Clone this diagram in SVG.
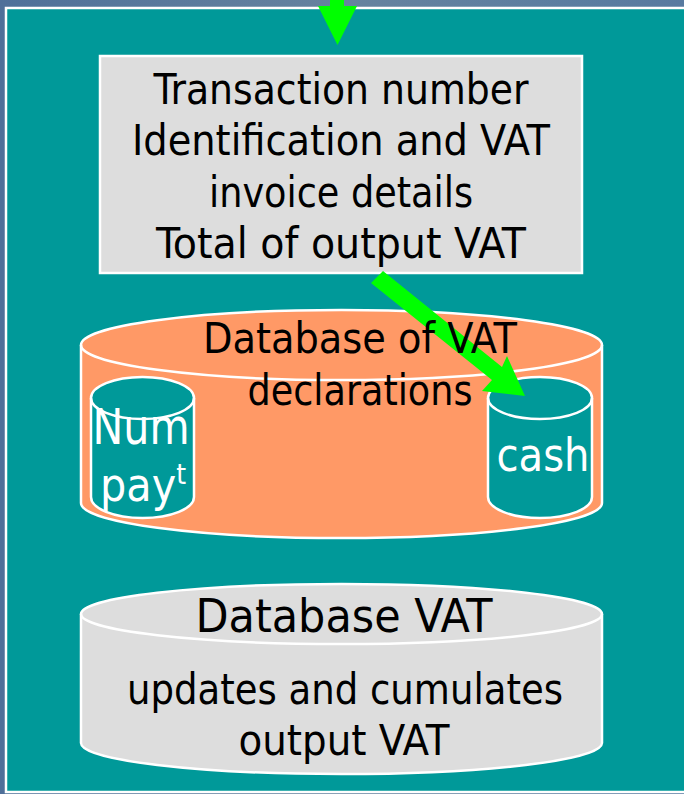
<svg xmlns="http://www.w3.org/2000/svg" width="684" height="794" viewBox="0 0 684 794">
<style>
text{font-family:"DejaVu Sans Condensed","DejaVu Sans","Liberation Sans",sans-serif;font-size:43px;text-anchor:middle;fill:#000}
.w{fill:#fff}
.s{fill:none;stroke:#fff;stroke-width:2.500}
</style>
<defs>
<linearGradient id="bg" x1="0" y1="0" x2="1" y2="0"><stop offset="0" stop-color="#4f7099"/><stop offset="0.5" stop-color="#66839f"/><stop offset="1" stop-color="#587aa0"/></linearGradient>
</defs>
<rect width="684" height="794" fill="url(#bg)"/>
<g id="panel"><rect x="6" y="8" width="680" height="784" fill="#009999" stroke="#fff" stroke-width="2.500"/></g>
<g id="transaction">
<rect x="100" y="56" width="482" height="217" fill="#dddddd" stroke="#fff" stroke-width="2.500"/>
<text x="341" y="104" textLength="375" lengthAdjust="spacingAndGlyphs">Transaction number</text>
<text x="341" y="155" textLength="418" lengthAdjust="spacingAndGlyphs">Identification and VAT</text>
<text x="341" y="207" textLength="264" lengthAdjust="spacingAndGlyphs">invoice details</text>
<text x="341" y="258" textLength="370" lengthAdjust="spacingAndGlyphs">Total of output VAT</text>
</g>
<g id="db-declarations">
<path d="M81 345A260 35 0 0 1 602 345V503A260 35 0 0 1 81 503Z" fill="#ff9966" stroke="#fff" stroke-width="2.500"/>
<path class="s" d="M81 345A260 35 0 0 0 602 345"/>
</g>
<g id="num-payt">
<path d="M91 398A51.500 21 0 0 1 194 398V497A51.500 21 0 0 1 91 497Z" fill="#009999" stroke="#fff" stroke-width="2.500"/>
<path class="s" d="M91 398A51.500 21 0 0 0 194 398"/>
<text class="w" x="141" y="444" style="font-size:50px" textLength="97" lengthAdjust="spacingAndGlyphs">Num</text>
<text class="w" x="100" y="501" style="font-size:46px;text-anchor:start">pay<tspan style="font-size:28px" dy="-17">t</tspan></text>
</g>
<g id="cash">
<path d="M488 398A52 21 0 0 1 592 398V497A52 21 0 0 1 488 497Z" fill="#009999" stroke="#fff" stroke-width="2.500"/>
<path class="s" d="M488 398A52 21 0 0 0 592 398"/>
<text class="w" x="543" y="471" style="font-size:47px" textLength="93" lengthAdjust="spacingAndGlyphs">cash</text>
</g>
<g id="connectors" fill="#00ff00">
<path d="M330 0H344V6H357L337.500 45 318 6H330Z"/>
<path d="M383 271L371 283 492 380 482 391 525 396 507 356 502 367Z"/>
</g>
<g id="db-declarations-label">
<text x="360" y="353" textLength="314" lengthAdjust="spacingAndGlyphs">Database of VAT</text>
<text x="360" y="405" textLength="225" lengthAdjust="spacingAndGlyphs">declarations</text>
</g>
<g id="db-vat">
<path d="M81 614A260 30 0 0 1 602 614V743A260 31 0 0 1 81 743Z" fill="#dddddd" stroke="#fff" stroke-width="2.500"/>
<path class="s" d="M81 614A260 30 0 0 0 602 614"/>
<text x="344" y="632" style="font-size:47px" textLength="297" lengthAdjust="spacingAndGlyphs">Database VAT</text>
<text x="345" y="704" textLength="436" lengthAdjust="spacingAndGlyphs">updates and cumulates</text>
<text x="344" y="755" textLength="211" lengthAdjust="spacingAndGlyphs">output VAT</text>
</g>
</svg>
